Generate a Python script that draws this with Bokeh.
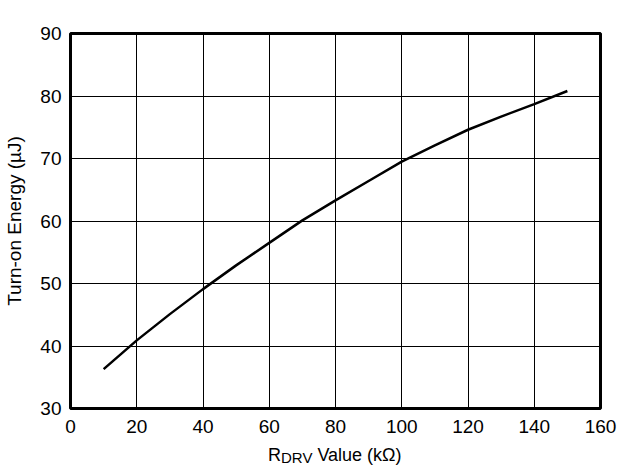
from bokeh.plotting import figure
from bokeh.models import FixedTicker, Range1d, Div
from bokeh.layouts import column
from bokeh.embed import file_html
from bokeh.resources import INLINE

# Data
r_drv_kohm = [10, 20, 30, 40, 50, 60, 70, 80, 90, 100, 110, 120, 130, 140, 150]
turn_on_energy_uj = [36.3, 40.9, 45.1, 49.1, 52.9, 56.5, 60.1, 63.3, 66.4, 69.5, 72.1, 74.6, 76.7, 78.7, 80.8]

x_ticks = [0, 20, 40, 60, 80, 100, 120, 140, 160]
y_ticks = [30, 40, 50, 60, 70, 80, 90]

FONT = "Liberation Sans"

p = figure(width=635, height=442, output_backend="svg", toolbar_location=None,
           x_range=Range1d(0, 160), y_range=Range1d(30, 90),
           min_border_left=70, min_border_right=35, min_border_top=33, min_border_bottom=34)

p.background_fill_color = "white"
p.border_fill_color = "white"
p.outline_line_color = "black"
p.outline_line_width = 3

for ax in (p.xaxis[0], p.yaxis[0]):
    ax.axis_line_color = None
    ax.major_tick_line_color = None
    ax.minor_tick_line_color = None
    ax.major_tick_in = 0
    ax.major_tick_out = 0
    ax.major_label_text_font = FONT
    ax.major_label_text_font_size = "19px"
    ax.major_label_text_color = "black"

p.xaxis.ticker = FixedTicker(ticks=x_ticks)
p.yaxis.ticker = FixedTicker(ticks=y_ticks)
p.xaxis.major_label_standoff = 11
p.yaxis.major_label_standoff = 9

p.yaxis.axis_label = "Turn-on Energy (µJ)"
p.yaxis.axis_label_text_font = FONT
p.yaxis.axis_label_text_font_size = "19px"
p.yaxis.axis_label_text_font_style = "normal"
p.yaxis.axis_label_text_color = "black"
p.yaxis.axis_label_standoff = 12

p.xgrid.ticker = FixedTicker(ticks=x_ticks)
p.ygrid.ticker = FixedTicker(ticks=y_ticks)
for g in (p.xgrid[0], p.ygrid[0]):
    g.grid_line_color = "black"
    g.grid_line_width = 1
    g.grid_line_alpha = 1

p.line(r_drv_kohm, turn_on_energy_uj, line_color="black", line_width=2.5)

# x-axis title with a subscript, as real HTML text below the figure
x_title = Div(
    width=635, height=33,
    text=('<div style="position:relative;top:-2px;left:0px;padding-left:263px;text-align:left;'
          'font-family:\'Liberation Sans\';font-size:18px;line-height:20px;color:black;'
          'white-space:nowrap;">'
          'R<span style="font-size:15px;position:relative;top:2px;">DRV</span> Value (kΩ)</div>'),
)

layout = column(p, x_title, spacing=0)
open("out.html", "w").write(file_html(layout, INLINE))
